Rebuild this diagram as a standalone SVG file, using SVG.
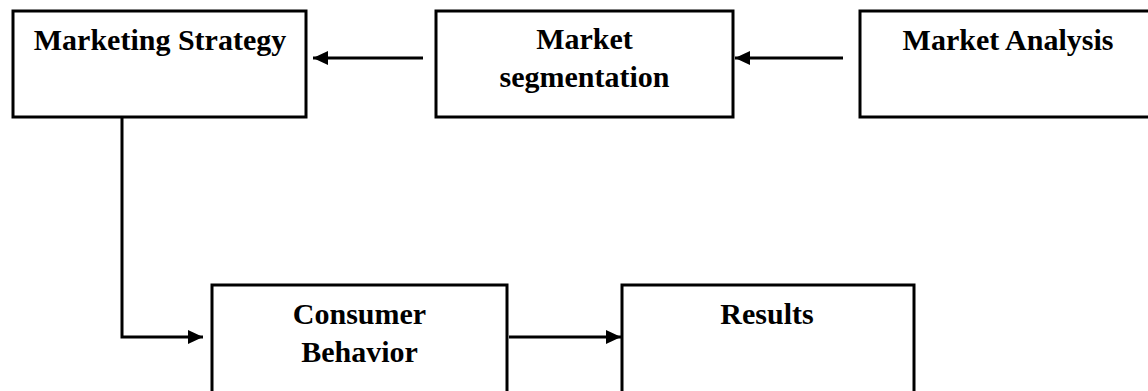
<svg xmlns="http://www.w3.org/2000/svg" width="1148" height="391" viewBox="0 0 1148 391">
  <defs>
    <marker id="arrow" markerUnits="userSpaceOnUse" markerWidth="16" markerHeight="14" refX="15" refY="7" orient="auto">
      <path d="M0,0 L15,7 L0,14 Z" fill="#000"/>
    </marker>
    <style>
      .box { fill: #fff; stroke: #000; stroke-width: 3; }
      .label { font-family: "Liberation Serif", "Times New Roman", serif; font-weight: bold; font-size: 30px; fill: #000; text-anchor: middle; }
      .wire { fill: none; stroke: #000; stroke-width: 3; marker-end: url(#arrow); }
    </style>
  </defs>
  <rect width="1148" height="391" fill="#fff"/>

  <g id="marketing-strategy">
    <rect class="box" x="13" y="11" width="293" height="106"/>
    <text class="label" x="160" y="50">Marketing Strategy</text>
  </g>

  <g id="market-segmentation">
    <rect class="box" x="436" y="11" width="297" height="106"/>
    <text class="label" x="584.5" y="49">Market</text>
    <text class="label" x="584.5" y="87">segmentation</text>
  </g>

  <g id="market-analysis">
    <rect class="box" x="860" y="11" width="296" height="106"/>
    <text class="label" x="1008" y="50">Market Analysis</text>
  </g>

  <g id="consumer-behavior">
    <rect class="box" x="212" y="285" width="295" height="120"/>
    <text class="label" x="359.5" y="324">Consumer</text>
    <text class="label" x="359.5" y="362">Behavior</text>
  </g>

  <g id="results">
    <rect class="box" x="622" y="285" width="292" height="120"/>
    <text class="label" x="767" y="324">Results</text>
  </g>

  <g id="connectors">
    <path class="wire" d="M843,58 L735,58"/>
    <path class="wire" d="M423,58 L313,58"/>
    <path class="wire" d="M122,117 L122,337 L203,337"/>
    <path class="wire" d="M509,337 L621,337"/>
  </g>
</svg>
